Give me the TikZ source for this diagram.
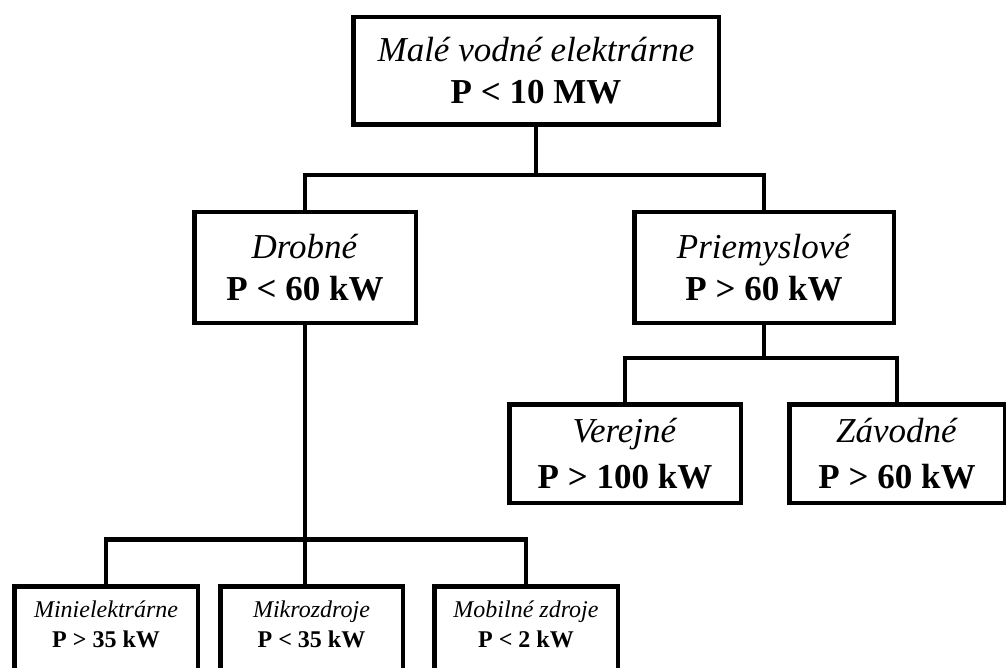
\documentclass[tikz,border=0pt]{standalone}
\usepackage{fontspec}
\setmainfont{Liberation Serif}
\usetikzlibrary{positioning}
\tikzset{
  lvl/.style={draw, line width=4.5pt, align=center, inner sep=0pt,
              font=\fontsize{35}{42}\selectfont},
  leaf/.style={lvl, font=\fontsize{35}{46}\selectfont},
  tiny/.style={lvl, font=\fontsize{24}{30}\selectfont, anchor=north,
               inner ysep=14pt, text depth=40pt},
  conn/.style={line width=4.5pt},
}
\begin{document}
\begin{tikzpicture}[x=1pt, y=-1pt]
\useasboundingbox (0,0) rectangle (1006,668);
\clip (0,0) rectangle (1006,668);
\node[lvl, minimum width=365.5pt, minimum height=107.5pt] (mve) at (536,71) {\textit{Malé vodné elektrárne}\\\textbf{P < 10 MW}};
\node[lvl, minimum width=221.5pt, minimum height=110.5pt] (drob) at (305,267.5) {\textit{Drobné}\\\textbf{P < 60 kW}};
\node[lvl, minimum width=259.5pt, minimum height=110.5pt] (prie) at (764,267.5) {\textit{Priemyslové}\\\textbf{P > 60 kW}};
\node[leaf, minimum width=231.5pt, minimum height=98.5pt] (ver) at (625,453.5) {\textit{Verejné}\\\textbf{P > 100 kW}};
\node[leaf, minimum width=215.5pt, minimum height=98.5pt] (zav) at (897,453.5) {\textit{Závodné}\\\textbf{P > 60 kW}};
\node[tiny, minimum width=183.5pt] (mini) at (106,584.25) {\textit{Minielektrárne}\\\textbf{P > 35 kW}};
\node[tiny, minimum width=182.5pt] (mikro) at (311.5,584.25) {\textit{Mikrozdroje}\\\textbf{P < 35 kW}};
\node[tiny, minimum width=183.5pt] (mob) at (526,584.25) {\textit{Mobilné zdroje}\\\textbf{P < 2 kW}};
% vetvy
\draw[conn] (mve.south) -- ++(0,48) coordinate (b1);
\draw[conn] (drob.north) |- (b1) -| (prie.north);
\draw[conn] (prie.south) -- ++(0,33) coordinate (b2);
\draw[conn] (ver.north) |- (b2) -| (zav.north);
\draw[conn] (drob.south) -- (drob.south |- mikro.north);
\draw[conn] (mini.north) -- ++(0,-45) -| (mob.north);
\end{tikzpicture}
\end{document}
